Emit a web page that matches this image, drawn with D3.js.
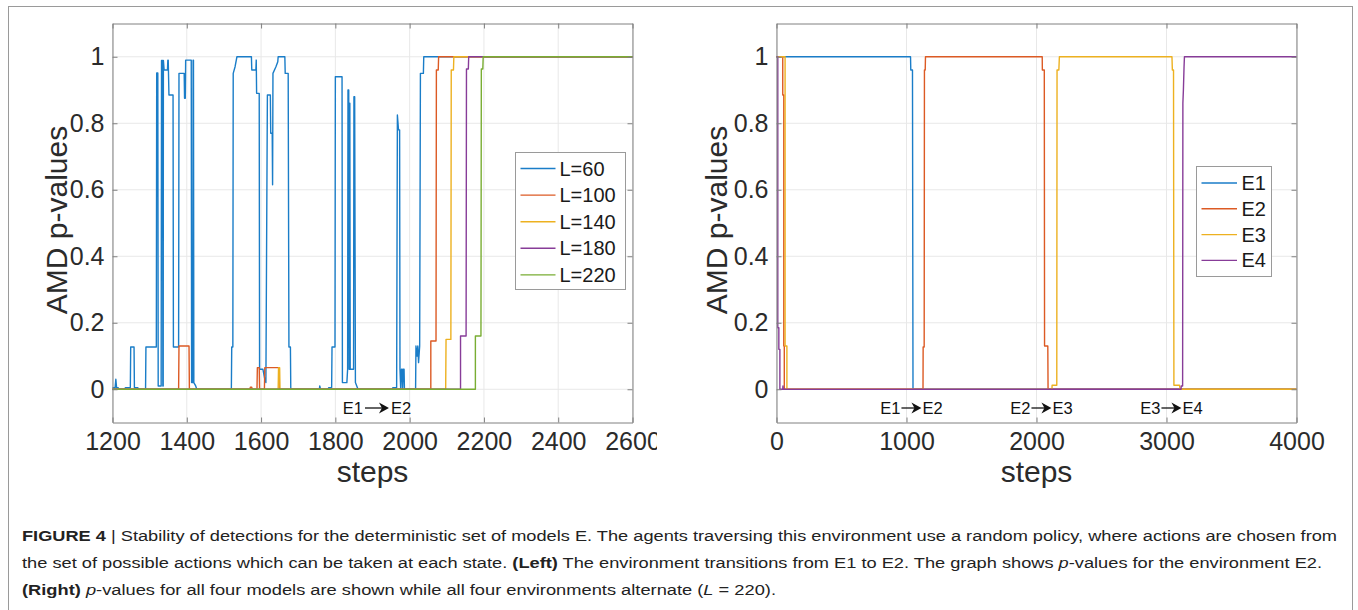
<!DOCTYPE html>
<html><head><meta charset="utf-8">
<script src="https://cdn.jsdelivr.net/npm/d3@7"></script>
<style>body{margin:0;background:#fff}svg{display:block}</style>
</head><body>
<svg id="c" width="1358" height="610"></svg>
<script>
// ---------------- data ----------------
const leftXTicks = [1200, 1400, 1600, 1800, 2000, 2200, 2400, 2600];
const rightXTicks = [0, 1000, 2000, 3000, 4000];
const yTicks = [0, 0.2, 0.4, 0.6, 0.8, 1];
const leftNames = ["L=60", "L=100", "L=140", "L=180", "L=220"];
const rightNames = ["E1", "E2", "E3", "E4"];
const leftAnnotations = [{x: 1912, from: "E1", to: "E2"}];
const rightAnnotations = [{x: 1038, from: "E1", to: "E2"}, {x: 2038, from: "E2", to: "E3"}, {x: 3038, from: "E3", to: "E4"}];

const L60 = [[1200,0.005],[1207,0.005],[1209,0.03],[1211,0.005],[1215,0.005],[1218,0],[1232,0],[1235,0.005],[1248,0.005],[1249,0.127],[1258,0.127],[1259,0.005],[1268,0.005],[1270,0],[1289,0],[1290,0.127],[1318,0.127],[1319,0.951],[1322,0.951],[1323,0.01],[1331,0.01],[1332,0.989],[1335,0.989],[1335.5,0.01],[1336.5,0.01],[1337,0.989],[1339,0.96],[1348,0.96],[1349,0.99],[1350,0.99],[1352,0.885],[1363,0.885],[1364,0.127],[1378,0.127],[1379,0.95],[1393,0.95],[1394,0.875],[1396,0.875],[1397,0.99],[1412,0.99],[1413,0.02],[1416,0.02],[1417,0.99],[1418,0.99],[1419,0.02],[1424,0.01],[1427,0],[1520,0],[1521,0.127],[1524,0.127],[1525,0.95],[1530,0.97],[1535,1.0],[1574,1.0],[1575,0.96],[1586,0.96],[1587,0.99],[1588,0.89],[1595,0.89],[1596,0.06],[1605,0.06],[1610,0.03],[1613,0.02],[1617,0.885],[1625,0.885],[1626,0.77],[1630,0.77],[1631,0.615],[1632,0.95],[1640,0.97],[1645,0.985],[1646,1.0],[1664,1.0],[1665,0.95],[1673,0.95],[1675,0.127],[1679,0.127],[1680,0],[1757,0],[1758,0.01],[1760,0],[1781,0],[1782,0.005],[1790,0.005],[1791,0.127],[1799,0.127],[1800,0.94],[1818,0.94],[1819,0.02],[1831,0.02],[1833,0.06],[1834,0.9],[1836,0.9],[1837,0.06],[1838,0.06],[1839,0.86],[1840,0.06],[1849,0.06],[1850,0.88],[1852,0.88],[1854,0.02],[1861,0],[1953,0],[1955,0.005],[1965,0.005],[1967,0.825],[1970,0.78],[1973,0.78],[1974,0.06],[1976,0],[1978,0.06],[1980,0.06],[1981,0],[1983,0.06],[1985,0.06],[1986,0],[2016,0],[2017,0.13],[2020,0.1],[2022,0.13],[2024,0.08],[2027,0.13],[2029,0.95],[2037,0.95],[2038,1.0],[2600,1.0]];
const L100 = [[1200,0],[1378,0],[1379,0.13],[1406,0.13],[1407,0],[1570,0],[1571,0.006],[1575,0.006],[1576,0],[1589,0],[1590,0.065],[1595,0.065],[1596,0],[1609,0],[1610,0.065],[1648,0.065],[1649,0],[2057,0],[2057,0.145],[2071,0.145],[2072,0.96],[2077,0.96],[2078,1.0],[2600,1.0]];
const L140 = [[1200,0],[1646,0],[1647,0.065],[1650,0.065],[1651,0],[2097,0],[2098,0.15],[2111,0.15],[2112,0.96],[2118,0.96],[2119,1],[2600,1]];
const L180 = [[1200,0],[2137,0],[2137,0.16],[2152,0.16],[2153,0.963],[2158,0.963],[2159,1],[2600,1]];
const L220 = [[1200,0],[2177,0],[2177,0.16],[2192,0.16],[2193,0.963],[2197,0.963],[2198,1],[2600,1]];

const E1 = [[0,1],[1031,1],[1033,0.96],[1046,0.96],[1050,0],[4000,0]];
const E2 = [[0,1],[48,1],[48,0.885],[56,0.885],[56,0.13],[60,0.13],[60,0],[1127,0],[1128,0.127],[1136,0.127],[1138,0.96],[1144,0.96],[1146,1],[2044,1],[2045,0.96],[2060,0.96],[2062,0.13],[2087,0.13],[2089,0],[4000,0]];
const E3 = [[0,1],[66,1],[66,0.13],[80,0.13],[80,0],[2119,0],[2120,0.012],[2156,0.012],[2158,0.96],[2172,0.96],[2176,1],[3042,1],[3045,0.96],[3054,0.96],[3057,0.012],[3100,0.012],[3105,0],[4000,0]];
const E4 = [[0,1],[10,1],[10,0.185],[18,0.185],[18,0.12],[26,0.12],[26,0],[48,0],[50,0.01],[52,0],[3112,0],[3113,0.01],[3124,0.01],[3126,0.86],[3130,0.9],[3135,0.97],[3138,1],[4000,1]];

const colors = ["#1a7dc8", "#dc5a24", "#edb120", "#873c98", "#79ad33"];

// ---------------- drawing ----------------
const svg = d3.select("#c");
const FONT = "'Liberation Sans', Arial, Helvetica, sans-serif";
const axisCol = "#808080", textCol = "#2b2b2b", gridCol = "#e8e8e8";

svg.append("rect").attr("x", 8.5).attr("y", 6.5).attr("width", 1344).attr("height", 700)
  .attr("fill", "#fff").attr("stroke", "#9a9a9a").attr("stroke-width", 1);

const defs = svg.append("defs");
defs.append("clipPath").attr("id", "leftclip").append("rect").attr("x", 0).attr("y", 0).attr("width", 657).attr("height", 500);

function panel(opts) {
  const g = svg.append("g");
  if (opts.clip) g.attr("clip-path", "url(#" + opts.clip + ")");
  const x = d3.scaleLinear().domain(opts.xDomain).range(opts.xRange);
  const y = d3.scaleLinear().domain([-0.1, 1.1]).range([422.5, 23.5]);
  const [x0, x1] = opts.xRange, [y1, y0] = y.range();

  // grid
  g.append("g").selectAll("line").data(opts.xTicks).join("line")
    .attr("x1", d => x(d)).attr("x2", d => x(d)).attr("y1", y0).attr("y2", y1)
    .attr("stroke", gridCol).attr("stroke-width", 1);
  g.append("g").selectAll("line").data(yTicks).join("line")
    .attr("y1", d => y(d)).attr("y2", d => y(d)).attr("x1", x0).attr("x2", x1)
    .attr("stroke", gridCol).attr("stroke-width", 1);

  // series
  const line = d3.line().x(d => x(d[0])).y(d => y(d[1]));
  const pg = g.append("g");
  opts.series.forEach((s, i) => {
    pg.append("path").attr("d", line(s)).attr("fill", "none")
      .attr("stroke", colors[i]).attr("stroke-width", 1.4).attr("stroke-linejoin", "round");
  });

  // axes
  const styleAxis = sel => {
    sel.selectAll("path.domain").attr("stroke", axisCol);
    sel.selectAll(".tick line").attr("stroke", axisCol);
    sel.selectAll("text").attr("fill", textCol).attr("font-family", FONT).attr("font-size", 25);
  };
  g.append("g").attr("transform", `translate(0,${y1})`)
    .call(d3.axisBottom(x).tickValues(opts.xTicks).tickSizeInner(-5).tickSizeOuter(0).tickPadding(10).tickFormat(d => String(d)))
    .call(styleAxis);
  g.append("g").attr("transform", `translate(0,${y0})`)
    .call(d3.axisTop(x).tickValues(opts.xTicks).tickSizeInner(-5).tickSizeOuter(0).tickFormat(() => ""))
    .call(styleAxis);
  g.append("g").attr("transform", `translate(${x0},0)`)
    .call(d3.axisLeft(y).tickValues(yTicks).tickSizeInner(-5).tickSizeOuter(0).tickPadding(8).tickFormat(d => String(d)))
    .call(styleAxis);
  g.append("g").attr("transform", `translate(${x1},0)`)
    .call(d3.axisRight(y).tickValues(yTicks).tickSizeInner(-5).tickSizeOuter(0).tickFormat(() => ""))
    .call(styleAxis);
  g.selectAll(".domain").attr("stroke", axisCol);

  // axis labels
  g.append("text").attr("x", (x0 + x1) / 2).attr("y", 482).attr("text-anchor", "middle")
    .attr("font-family", FONT).attr("font-size", 30).attr("fill", textCol).text("steps");
  g.append("text").attr("transform", `translate(${opts.yLabelX},220) rotate(-90)`).attr("text-anchor", "middle")
    .attr("font-family", FONT).attr("font-size", 30).attr("fill", textCol).text("AMD p-values");

  // annotations
  opts.annotations.forEach(a => {
    const cx = x(a.x), by = 414, ay = 408;
    g.append("text").attr("x", cx - opts.annGap).attr("y", by).attr("text-anchor", "end")
      .attr("font-family", FONT).attr("font-size", 16.5).attr("fill", "#111").text(a.from);
    g.append("text").attr("x", cx + opts.annGap).attr("y", by).attr("text-anchor", "start")
      .attr("font-family", FONT).attr("font-size", 16.5).attr("fill", "#111").text(a.to);
    const ax0 = cx - opts.annHalf, ax1 = cx + opts.annHalf;
    g.append("line").attr("x1", ax0).attr("x2", ax1 - 6).attr("y1", ay).attr("y2", ay)
      .attr("stroke", "#111").attr("stroke-width", 1.3);
    g.append("path").attr("d", `M${ax1 - 10},${ay - 5.5} L${ax1},${ay} L${ax1 - 10},${ay + 5.5} L${ax1 - 7},${ay} Z`)
      .attr("fill", "#111");
  });

  // legend
  const L = opts.legend;
  g.append("rect").attr("x", L.x).attr("y", L.y).attr("width", L.w).attr("height", L.h)
    .attr("fill", "#fff").attr("stroke", "#9a9a9a").attr("stroke-width", 1);
  opts.names.forEach((n, i) => {
    const ry = L.y + L.first + i * L.step;
    g.append("line").attr("x1", L.x + 5).attr("x2", L.x + 5 + L.lineLen).attr("y1", ry).attr("y2", ry)
      .attr("stroke", colors[i]).attr("stroke-width", 1.4);
    g.append("text").attr("x", L.x + L.textOff).attr("y", ry + 7).attr("font-family", FONT)
      .attr("font-size", 20).attr("fill", "#1a1a1a").text(n);
  });
}

panel({
  xDomain: [1200, 2600], xRange: [112.5, 632.5], xTicks: leftXTicks,
  series: [L60, L100, L140, L180, L220], names: leftNames, clip: "leftclip",
  yLabelX: 67, annotations: leftAnnotations, annGap: 14, annHalf: 12,
  legend: {x: 515.5, y: 152.5, w: 110, h: 137, first: 16, step: 26.6, lineLen: 35, textOff: 44}
});
panel({
  xDomain: [0, 4000], xRange: [776.5, 1296.5], xTicks: rightXTicks,
  series: [E1, E2, E3, E4], names: rightNames,
  yLabelX: 727, annotations: rightAnnotations, annGap: 11, annHalf: 10,
  legend: {x: 1196.5, y: 166.5, w: 75, h: 110, first: 16.5, step: 25.8, lineLen: 35.5, textOff: 45}
});

// caption
const cap = svg.append("g").attr("font-family", FONT).attr("font-size", 15.5).attr("fill", "#222");
const l1 = cap.append("text").attr("x", 22).attr("y", 540.5).attr("textLength", 1315).attr("lengthAdjust", "spacingAndGlyphs");
l1.append("tspan").attr("font-weight", "bold").text("FIGURE 4");
l1.append("tspan").text(" | Stability of detections for the deterministic set of models E. The agents traversing this environment use a random policy, where actions are chosen from");
const l2 = cap.append("text").attr("x", 22).attr("y", 567.5).attr("textLength", 1300).attr("lengthAdjust", "spacingAndGlyphs");
l2.append("tspan").text("the set of possible actions which can be taken at each state. ");
l2.append("tspan").attr("font-weight", "bold").text("(Left)");
l2.append("tspan").text(" The environment transitions from E1 to E2. The graph shows ");
l2.append("tspan").attr("font-style", "italic").text("p");
l2.append("tspan").text("-values for the environment E2.");
const l3 = cap.append("text").attr("x", 22).attr("y", 594.5).attr("textLength", 754).attr("lengthAdjust", "spacingAndGlyphs");
l3.append("tspan").attr("font-weight", "bold").text("(Right)");
l3.append("tspan").text(" ");
l3.append("tspan").attr("font-style", "italic").text("p");
l3.append("tspan").text("-values for all four models are shown while all four environments alternate (");
l3.append("tspan").attr("font-style", "italic").text("L");
l3.append("tspan").text(" = 220).");
</script>
</body></html>
